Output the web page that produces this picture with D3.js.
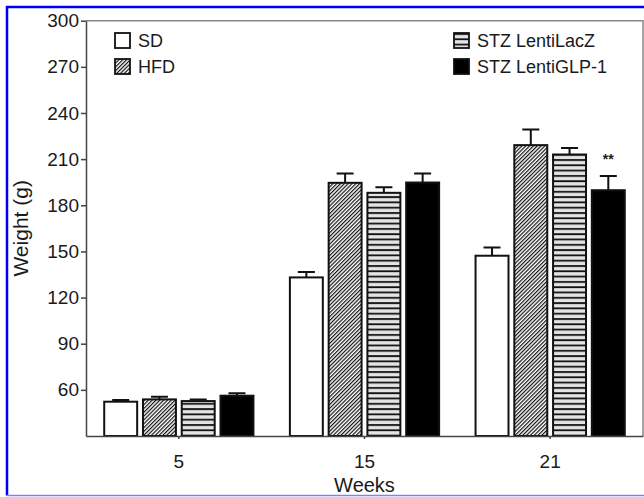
<!DOCTYPE html>
<meta charset="utf-8">
<script src="https://d3js.org/d3.v7.min.js"></script>
<style>
  body { margin: 0; background: #fff; }
  text { font-family: "Liberation Sans", Arial, sans-serif; fill: #1a1a1a; }
</style>
<div id="chart"></div>
<script>
  // Chart values
  const weeks = ["5", "15", "21"];
  const groups = ["SD", "HFD", "STZ LentiLacZ", "STZ LentiGLP-1"];
  const sdMean   = [52.3, 133.1, 147.2];
  const sdErr    = [1.1, 3.6, 5.4];
  const hfdMean  = [53.8, 194.6, 219.1];
  const hfdErr   = [1.7, 6.1, 10.2];
  const lacZMean = [52.7, 188.1, 213.0];
  const lacZErr  = [1.0, 3.7, 4.3];
  const glpMean  = [56.2, 194.8, 189.8];
  const glpErr   = [1.6, 5.9, 9.2];
  const yTicks = [60, 90, 120, 150, 180, 210, 240, 270, 300];

  const means = [sdMean, hfdMean, lacZMean, glpMean];
  const errs = [sdErr, hfdErr, lacZErr, glpErr];

  const width = 644, height = 497;
  const plotLeft = 86, plotRight = 643, plotTop = 20.7, plotBottom = 436;

  const svg = d3.select("#chart").append("svg")
    .attr("width", width)
    .attr("height", height);

  // fill patterns for the bars
  const defs = svg.append("defs");
  const hatch = defs.append("pattern")
    .attr("id", "hatch")
    .attr("patternUnits", "userSpaceOnUse")
    .attr("width", 2.7).attr("height", 10)
    .attr("patternTransform", "rotate(45)");
  hatch.append("rect").attr("width", 2.7).attr("height", 10).attr("fill", "#fff");
  hatch.append("line").attr("x1", 0.6).attr("x2", 0.6).attr("y1", 0).attr("y2", 10)
    .attr("stroke", "#111").attr("stroke-width", 1.2);

  const stripes = defs.append("pattern")
    .attr("id", "stripes")
    .attr("patternUnits", "userSpaceOnUse")
    .attr("width", 10).attr("height", 5.3);
  stripes.append("rect").attr("width", 10).attr("height", 5.3).attr("fill", "#e4e4e4");
  stripes.append("line").attr("x1", 0).attr("x2", 10).attr("y1", 1).attr("y2", 1)
    .attr("stroke", "#111").attr("stroke-width", 1.8);

  const fills = ["#fff", "url(#hatch)", "url(#stripes)", "#000"];

  // scales
  const x0 = d3.scaleBand().domain(weeks).range([plotLeft, plotRight]);
  const x1 = d3.scaleBand().domain(groups).range([0, x0.bandwidth()])
    .paddingInner(0.15).paddingOuter(0.47);
  const y = d3.scaleLinear().domain([30, 300]).range([plotBottom, plotTop]);

  // frame top and right
  svg.append("path")
    .attr("d", `M${plotLeft},${plotTop}H${plotRight}V${plotBottom}`)
    .attr("fill", "none").attr("stroke", "#888").attr("stroke-width", 1.5);

  // bars
  const rows = [];
  groups.forEach((g, gi) => weeks.forEach((w, wi) => {
    rows.push({g, gi, w, v: means[gi][wi], e: errs[gi][wi]});
  }));

  const bar = svg.append("g").selectAll("g").data(rows).join("g")
    .attr("transform", d => `translate(${x0(d.w) + x1(d.g)},0)`);

  // error bars (upper only)
  bar.append("path")
    .attr("d", d => {
      const c = x1.bandwidth() / 2;
      return `M${c},${y(d.v)}V${y(d.v + d.e)}M${c - 8.5},${y(d.v + d.e)}H${c + 8.5}`;
    })
    .attr("fill", "none").attr("stroke", "#111").attr("stroke-width", 2);

  bar.append("rect")
    .attr("x", 0)
    .attr("y", d => y(d.v))
    .attr("width", x1.bandwidth())
    .attr("height", d => plotBottom - y(d.v))
    .attr("fill", d => fills[d.gi])
    .attr("stroke", "#111")
    .attr("stroke-width", 2);

  // significance mark
  svg.append("text")
    .attr("x", x0("21") + x1("STZ LentiGLP-1") + x1.bandwidth() / 2)
    .attr("y", y(glpMean[2] + glpErr[2]) - 12)
    .attr("text-anchor", "middle")
    .style("font-size", "14px")
    .style("font-weight", "bold")
    .text("**");

  // axes
  const yAxis = svg.append("g")
    .attr("transform", `translate(${plotLeft},0)`)
    .call(d3.axisLeft(y).tickValues(yTicks).tickSize(5).tickSizeOuter(0).tickPadding(2));
  yAxis.selectAll("text").style("font-size", "19px");

  const xAxis = svg.append("g")
    .attr("transform", `translate(0,${plotBottom})`)
    .call(d3.axisBottom(x0).tickSize(3).tickSizeOuter(0).tickPadding(16));
  xAxis.selectAll("text").style("font-size", "19px");

  svg.selectAll(".domain, .tick line")
    .attr("stroke", "#444").attr("stroke-width", 1.5);

  // axis titles
  svg.append("text")
    .attr("transform", `translate(28,${(plotTop + plotBottom) / 2}) rotate(-90)`)
    .attr("text-anchor", "middle")
    .style("font-size", "21px")
    .text("Weight (g)");

  svg.append("text")
    .attr("x", x0("15") + x0.bandwidth() / 2)
    .attr("y", 492)
    .attr("text-anchor", "middle")
    .style("font-size", "20px")
    .text("Weeks");

  // legend
  const legendPos = [[115, 33], [115, 59], [454, 33], [454, 59]];
  const legend = svg.append("g").selectAll("g").data(groups).join("g")
    .attr("transform", (d, i) => `translate(${legendPos[i][0]},${legendPos[i][1]})`);
  legend.append("rect")
    .attr("width", 15).attr("height", 15)
    .attr("fill", (d, i) => fills[i])
    .attr("stroke", "#111").attr("stroke-width", 1.8);
  legend.append("text")
    .attr("x", 23).attr("y", 14)
    .style("font-size", "18px")
    .text(d => d);

  // blue outer border (bottom edge is fainter in the original)
  svg.append("path")
    .attr("d", "M660,7H7V495.5")
    .attr("fill", "none").attr("stroke", "#0000f0").attr("stroke-width", 2.5);
  svg.append("path")
    .attr("d", "M7,495.5H660")
    .attr("fill", "none").attr("stroke", "#8080ff").attr("stroke-width", 1.5);
</script>
